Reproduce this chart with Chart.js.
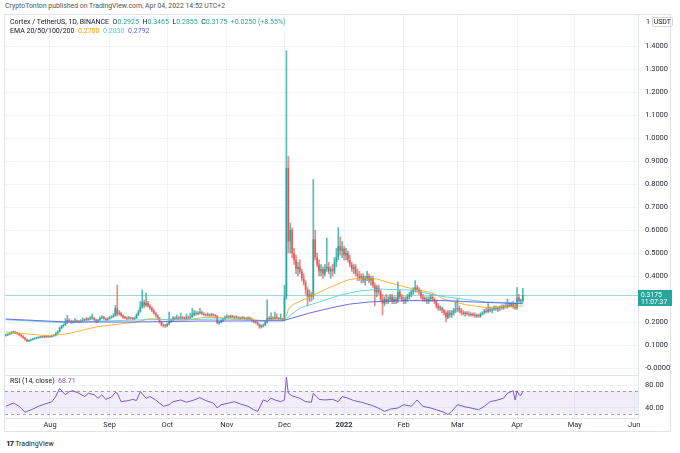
<!DOCTYPE html>
<html>
<head>
<meta charset="utf-8">
<script src="https://cdn.jsdelivr.net/npm/chart.js@4.4.1/dist/chart.umd.min.js"></script>
<style>
  html, body { margin: 0; padding: 0; background: #fff; }
  body { width: 680px; height: 453px; position: relative; overflow: hidden; font-family: Roboto, "Liberation Sans", sans-serif; color: #131722; }
  .abs { position: absolute; white-space: nowrap; }
  .frame { left: 4px; top: 14px; width: 667px; height: 418px; border: 1px solid #e0e3eb; box-sizing: border-box; }
  .sep { left: 4px; width: 634px; height: 1px; background: #e0e3eb; }
  .pub { left: 5px; top: 2px; font-size: 6.9px; color: #50535e; }
  .legend { left: 10px; font-size: 7px; color: #131722; }
  .up { color: #26a69a; }
  .unit { left: 646px; top: 18px; font-size: 7px; }
  .unit span { border: 1px solid #d1d4dc; border-radius: 2px; padding: 0 1px; }
  .logo { left: 6px; top: 439px; font-size: 7px; color: #131722; }
  .logo b { font-size: 8px; letter-spacing: -1px; margin-right: 2px; }
</style>
</head>
<body>
<div class="abs frame"></div>
<div class="abs pub">CryptoTonton published on TradingView.com, Apr 04, 2022 14:52 UTC+2</div>
<div class="abs" style="left:0;top:15px;width:680px;height:360px"><canvas id="priceChart" width="680" height="360"></canvas></div>
<div class="abs" style="left:0;top:375px;width:680px;height:58px"><canvas id="rsiChart" width="680" height="58"></canvas></div>
<div class="abs sep" style="top:375px"></div>
<div class="abs legend" style="top:18px">Cortex / TetherUS, 1D, BINANCE&nbsp;&nbsp;O<span class="up">0.2925</span>&nbsp; H<span class="up">0.3465</span>&nbsp; L<span class="up">0.2855</span>&nbsp; C<span class="up">0.3175</span>&nbsp; <span class="up">+0.0250 (+8.55%)</span></div>
<div class="abs legend" style="top:27px">EMA 20/50/100/200&nbsp; <span style="color:#ff9800">0.2700</span>&nbsp; <span style="color:#4dd0e1">0.2830</span>&nbsp; <span style="color:#5b5fe0">0.2792</span></div>
<div class="abs legend" style="top:377px">RSI (14, close)&nbsp; <span style="color:#7e57c2">68.71</span></div>
<div class="abs unit">1 <span>USDT</span></div>
<div class="abs logo"><b>17</b>TradingView</div>
<script>
// days are counted from 2021-08-01 (day 0), one candle per day
const firstDay = -23;
const opens = [
  0.140,0.143,0.146,0.150,0.155,0.157,0.152,0.149,0.143,0.138,
  0.132,0.124,0.117,0.120,0.123,0.126,0.129,0.131,0.133,0.135,
  0.134,0.136,0.135,0.137,0.136,0.139,0.141,0.150,0.158,0.174,
  0.182,0.187,0.196,0.209,0.204,0.198,0.200,0.206,0.203,0.200,
  0.205,0.210,0.208,0.213,0.211,0.216,0.217,0.210,0.200,0.208,
  0.217,0.222,0.215,0.209,0.214,0.218,0.222,0.228,0.260,0.235,
  0.239,0.228,0.220,0.217,0.214,0.218,0.216,0.212,0.217,0.230,
  0.245,0.265,0.287,0.272,0.283,0.270,0.260,0.250,0.239,0.228,
  0.217,0.200,0.187,0.184,0.183,0.190,0.200,0.208,0.217,0.214,
  0.218,0.215,0.220,0.216,0.214,0.219,0.217,0.222,0.230,0.239,
  0.235,0.238,0.243,0.236,0.232,0.229,0.231,0.228,0.232,0.229,
  0.226,0.196,0.199,0.205,0.212,0.220,0.224,0.221,0.225,0.222,
  0.219,0.221,0.217,0.215,0.219,0.216,0.213,0.218,0.214,0.205,
  0.200,0.198,0.190,0.178,0.182,0.187,0.198,0.217,0.212,0.218,
  0.214,0.220,0.216,0.212,0.215,0.209,0.310,0.870,0.550,0.600,
  0.500,0.470,0.430,0.440,0.420,0.390,0.370,0.340,0.310,0.320,
  0.310,0.560,0.480,0.450,0.420,0.430,0.410,0.430,0.440,0.420,
  0.430,0.420,0.460,0.480,0.530,0.510,0.520,0.490,0.500,0.470,
  0.450,0.430,0.440,0.410,0.400,0.390,0.400,0.380,0.390,0.400,
  0.380,0.390,0.360,0.330,0.350,0.330,0.300,0.280,0.300,0.290,
  0.300,0.310,0.290,0.300,0.290,0.330,0.310,0.300,0.290,0.300,
  0.310,0.320,0.330,0.340,0.350,0.340,0.330,0.310,0.300,0.300,
  0.290,0.300,0.310,0.300,0.290,0.270,0.260,0.262,0.250,0.240,
  0.220,0.240,0.230,0.240,0.250,0.255,0.260,0.250,0.240,0.235,
  0.240,0.235,0.230,0.235,0.230,0.225,0.230,0.225,0.235,0.240,
  0.250,0.245,0.255,0.250,0.255,0.260,0.255,0.260,0.265,0.260,
  0.270,0.265,0.275,0.270,0.280,0.265,0.260,0.305,0.290,0.2925
];
const highs = [
  0.147,0.149,0.153,0.158,0.161,0.159,0.155,0.151,0.146,0.141,
  0.134,0.127,0.123,0.126,0.129,0.132,0.134,0.136,0.138,0.137,
  0.139,0.138,0.140,0.139,0.143,0.145,0.154,0.162,0.178,0.186,
  0.192,0.215,0.230,0.214,0.208,0.206,0.215,0.210,0.207,0.210,
  0.218,0.214,0.220,0.218,0.225,0.235,0.220,0.213,0.212,0.222,
  0.228,0.225,0.218,0.219,0.224,0.228,0.236,0.272,0.360,0.250,
  0.243,0.232,0.226,0.222,0.224,0.222,0.220,0.222,0.236,0.252,
  0.290,0.340,0.295,0.326,0.290,0.276,0.266,0.255,0.243,0.232,
  0.220,0.204,0.192,0.190,0.196,0.243,0.214,0.224,0.222,0.230,
  0.224,0.239,0.225,0.222,0.235,0.226,0.239,0.260,0.250,0.248,
  0.245,0.260,0.247,0.241,0.236,0.240,0.235,0.238,0.236,0.232,
  0.228,0.204,0.210,0.216,0.226,0.232,0.228,0.230,0.229,0.226,
  0.227,0.224,0.221,0.224,0.222,0.219,0.222,0.221,0.217,0.209,
  0.206,0.201,0.193,0.188,0.192,0.205,0.296,0.224,0.240,0.224,
  0.243,0.236,0.220,0.235,0.218,0.360,1.380,0.920,0.630,0.610,
  0.520,0.490,0.460,0.470,0.430,0.410,0.380,0.350,0.340,0.330,
  0.820,0.600,0.500,0.470,0.450,0.440,0.450,0.565,0.460,0.440,
  0.450,0.480,0.520,0.610,0.570,0.550,0.530,0.520,0.510,0.490,
  0.460,0.450,0.450,0.430,0.420,0.410,0.410,0.400,0.420,0.410,
  0.400,0.400,0.370,0.360,0.360,0.340,0.320,0.310,0.320,0.310,
  0.320,0.320,0.310,0.310,0.374,0.340,0.320,0.310,0.310,0.320,
  0.330,0.340,0.350,0.380,0.360,0.350,0.340,0.320,0.310,0.310,
  0.310,0.320,0.320,0.305,0.295,0.280,0.270,0.265,0.255,0.245,
  0.250,0.250,0.250,0.260,0.290,0.300,0.270,0.260,0.250,0.245,
  0.245,0.245,0.240,0.240,0.240,0.235,0.235,0.240,0.245,0.255,
  0.260,0.280,0.265,0.260,0.270,0.270,0.265,0.270,0.275,0.275,
  0.280,0.300,0.285,0.285,0.290,0.280,0.350,0.320,0.300,0.3465
];
const lows = [
  0.138,0.141,0.144,0.148,0.151,0.149,0.146,0.140,0.135,0.129,
  0.121,0.113,0.115,0.118,0.121,0.124,0.127,0.129,0.131,0.131,
  0.132,0.132,0.133,0.133,0.134,0.137,0.139,0.148,0.156,0.170,
  0.178,0.185,0.193,0.200,0.194,0.195,0.198,0.199,0.196,0.198,
  0.203,0.204,0.206,0.207,0.209,0.212,0.206,0.196,0.198,0.206,
  0.214,0.211,0.205,0.207,0.212,0.216,0.220,0.225,0.226,0.230,
  0.224,0.216,0.213,0.210,0.212,0.212,0.208,0.210,0.215,0.228,
  0.242,0.260,0.262,0.268,0.265,0.255,0.244,0.234,0.222,0.210,
  0.195,0.182,0.178,0.176,0.180,0.187,0.197,0.205,0.209,0.212,
  0.210,0.213,0.212,0.210,0.212,0.213,0.215,0.220,0.227,0.230,
  0.231,0.235,0.232,0.228,0.225,0.226,0.224,0.225,0.225,0.222,
  0.192,0.190,0.196,0.202,0.209,0.217,0.216,0.218,0.218,0.215,
  0.216,0.213,0.211,0.213,0.212,0.209,0.211,0.210,0.202,0.196,
  0.193,0.185,0.172,0.174,0.178,0.184,0.195,0.207,0.210,0.209,
  0.212,0.212,0.208,0.210,0.205,0.205,0.300,0.500,0.500,0.480,
  0.450,0.410,0.400,0.410,0.380,0.360,0.320,0.270,0.290,0.290,
  0.300,0.470,0.440,0.400,0.400,0.390,0.400,0.420,0.410,0.390,
  0.400,0.410,0.440,0.470,0.490,0.480,0.470,0.470,0.460,0.440,
  0.420,0.410,0.400,0.380,0.380,0.370,0.370,0.360,0.380,0.370,
  0.360,0.350,0.270,0.310,0.320,0.290,0.230,0.270,0.280,0.280,
  0.290,0.280,0.280,0.280,0.285,0.300,0.290,0.280,0.280,0.290,
  0.300,0.310,0.320,0.330,0.330,0.320,0.300,0.290,0.290,0.280,
  0.280,0.290,0.290,0.280,0.260,0.250,0.250,0.240,0.230,0.200,
  0.215,0.220,0.220,0.230,0.240,0.245,0.240,0.230,0.230,0.225,
  0.230,0.225,0.225,0.225,0.220,0.220,0.220,0.220,0.230,0.235,
  0.240,0.240,0.245,0.240,0.250,0.250,0.245,0.250,0.255,0.255,
  0.260,0.260,0.265,0.265,0.260,0.255,0.255,0.285,0.280,0.2855
];
const closes = [
  0.143,0.146,0.150,0.155,0.157,0.152,0.149,0.143,0.138,0.132,
  0.124,0.117,0.120,0.123,0.126,0.129,0.131,0.133,0.135,0.134,
  0.136,0.135,0.137,0.136,0.139,0.141,0.150,0.158,0.174,0.182,
  0.187,0.196,0.209,0.204,0.198,0.200,0.206,0.203,0.200,0.205,
  0.210,0.208,0.213,0.211,0.216,0.217,0.210,0.200,0.208,0.217,
  0.222,0.215,0.209,0.214,0.218,0.222,0.228,0.260,0.235,0.239,
  0.228,0.220,0.217,0.214,0.218,0.216,0.212,0.217,0.230,0.245,
  0.265,0.287,0.272,0.283,0.270,0.260,0.250,0.239,0.228,0.217,
  0.200,0.187,0.184,0.183,0.190,0.200,0.208,0.217,0.214,0.218,
  0.215,0.220,0.216,0.214,0.219,0.217,0.222,0.230,0.239,0.235,
  0.238,0.243,0.236,0.232,0.229,0.231,0.228,0.232,0.229,0.226,
  0.196,0.199,0.205,0.212,0.220,0.224,0.221,0.225,0.222,0.219,
  0.221,0.217,0.215,0.219,0.216,0.213,0.218,0.214,0.205,0.200,
  0.198,0.190,0.178,0.182,0.187,0.198,0.217,0.212,0.218,0.214,
  0.220,0.216,0.212,0.215,0.209,0.310,0.870,0.550,0.600,0.500,
  0.470,0.430,0.440,0.420,0.390,0.370,0.340,0.310,0.320,0.310,
  0.560,0.480,0.450,0.420,0.430,0.410,0.430,0.440,0.420,0.430,
  0.420,0.460,0.480,0.530,0.510,0.520,0.490,0.500,0.470,0.450,
  0.430,0.440,0.410,0.400,0.390,0.400,0.380,0.390,0.400,0.380,
  0.390,0.360,0.330,0.350,0.330,0.300,0.280,0.300,0.290,0.300,
  0.310,0.290,0.300,0.290,0.330,0.310,0.300,0.290,0.300,0.310,
  0.320,0.330,0.340,0.350,0.340,0.330,0.310,0.300,0.302,0.290,
  0.300,0.310,0.300,0.290,0.270,0.260,0.262,0.250,0.240,0.220,
  0.240,0.230,0.240,0.250,0.255,0.260,0.250,0.240,0.235,0.240,
  0.235,0.230,0.235,0.230,0.225,0.230,0.225,0.235,0.240,0.250,
  0.245,0.255,0.250,0.255,0.260,0.255,0.260,0.265,0.260,0.270,
  0.265,0.275,0.270,0.280,0.265,0.260,0.305,0.290,0.2925,0.3175
];

// EMA lines
const ema20Days = [-23, 0, 10, 17, 25, 35, 45, 52, 60, 70, 80, 90, 100, 110, 121, 123, 124, 126, 135, 146, 155, 161, 170, 177, 187, 199, 206, 217, 227, 241, 246];
const ema20 = [0.157, 0.139, 0.150, 0.165, 0.180, 0.190, 0.200, 0.215, 0.210, 0.208, 0.220, 0.218, 0.217, 0.205, 0.210, 0.225, 0.255, 0.274, 0.309, 0.352, 0.383, 0.391, 0.387, 0.370, 0.348, 0.326, 0.296, 0.274, 0.263, 0.268, 0.270];
const ema50Days = [-23, 0, 10, 30, 50, 70, 90, 110, 122, 130, 140, 151, 161, 172, 187, 206, 227, 246];
const ema50 = [0.210, 0.200, 0.198, 0.205, 0.210, 0.210, 0.213, 0.207, 0.209, 0.261, 0.287, 0.317, 0.335, 0.343, 0.339, 0.309, 0.287, 0.283];
const ema100Days = [-23, 9, 43, 78, 121, 135, 146, 156, 166, 177, 187, 206, 221, 234, 246];
const ema100 = [0.213, 0.200, 0.200, 0.204, 0.205, 0.239, 0.261, 0.278, 0.287, 0.291, 0.293, 0.293, 0.287, 0.283, 0.2792];

// RSI (14, close)
const rsiDays = [-23,-19,-16,-13,-9,-6,-1,1,3,5,8,10,12,15,18,20,23,25,27,29,32,34,35,37,41,43,45,47,50,52,55,59,62,64,68,71,75,78,81,85,87,89,93,96,99,103,106,108,111,113,115,117,120,122,123,124,126,130,133,136,137,140,143,147,150,152,155,158,162,165,168,172,174,177,181,184,188,191,194,198,201,205,207,209,212,216,219,223,226,229,233,236,238,241,242,243,244,245,246];
const rsiValues = [42.9,48.6,42.9,32.6,38,43,48.6,51,60,74,63,68.6,70,65.7,60,65.7,63,57,63,55,59,67,65.7,51,53,55,53,68.6,57,60,54,43,45.7,51,54,50,54,58,53,48.6,40,45.7,48.6,51,47,43,37,34,54,51,57,54,51,54,94,65.7,61,57,51,50,65.7,55,54,55,51,60,57,53,50,47,44,38,34,38,40,45.7,43,54,43,40,37,32.6,28.6,34,45.7,42,40,37,43,51,54,57,65.7,70,54,70,63,62,68.71];
const rsiBands = [70, 30];

// axes
const monthDays = [0, 31, 61, 92, 122, 153, 184, 212, 243, 273, 304];
const monthLabels = ['Aug', 'Sep', 'Oct', 'Nov', 'Dec', '2022', 'Feb', 'Mar', 'Apr', 'May', 'Jun'];
const priceTicks = [0, 0.1, 0.2, 0.3, 0.4, 0.5, 0.6, 0.7, 0.8, 0.9, 1.0, 1.1, 1.2, 1.3, 1.4];
const priceTickLabels = ['-0.0000', '0.1000', '0.2000', '0.3000', '0.4000', '0.5000', '0.6000', '0.7000', '0.8000', '0.9000', '1.0000', '1.1000', '1.2000', '1.3000', '1.4000'];
const rsiTicks = [40, 80];
const rsiTickLabels = ['40.00', '80.00'];
const countdown = '11:07:37';

const UP = '#26a69a';
const DOWN = '#ef5350';
const GRID = '#f0f3fa';
const FONT = 'Roboto, "Liberation Sans", sans-serif';
const X_MIN = -23.41;
const X_MAX = 305.93;

Chart.defaults.font.family = FONT;
Chart.defaults.font.size = 7.5;
Chart.defaults.color = '#2a2e39';

const days = closes.map((_, i) => firstDay + i);
const candleColors = closes.map((c, i) => c >= opens[i] ? UP : DOWN);
const wickColors = closes.map((c, i) => c >= opens[i] ? 'rgba(38,166,154,0.75)' : 'rgba(239,83,80,0.7)');
const toPoints = (xs, ys) => xs.map((x, i) => ({ x, y: ys[i] }));

const lineSet = (label, xs, ys, color) => ({
  type: 'line', label, data: toPoints(xs, ys), borderColor: color, borderWidth: 1,
  pointRadius: 0, tension: 0, order: 0
});

// price scales sit on the right, fixed width, no extra label padding
const sideAxis = (min, max, ticks, labels) => ({
  position: 'right', min, max,
  afterBuildTicks: s => { s.ticks = ticks.map(v => ({ value: v })); },
  afterFit: s => { s.width = 34; s.paddingTop = 0; s.paddingBottom = 0; },
  ticks: { callback: (v, i) => labels[i], padding: 7, color: '#2a2e39' },
  grid: { color: GRID, drawTicks: false },
  border: { display: true, color: '#e0e3eb' }
});

// last price line + label on the price scale
const lastPrice = {
  id: 'lastPrice',
  beforeDatasetsDraw(chart) {
    const { ctx, chartArea, scales } = chart;
    const y = Math.round(scales.y.getPixelForValue(closes[closes.length - 1])) + 0.5;
    ctx.save();
    ctx.strokeStyle = 'rgba(38,166,154,0.45)';
    ctx.lineWidth = 1;
    ctx.beginPath();
    ctx.moveTo(chartArea.left, y);
    ctx.lineTo(chartArea.right, y);
    ctx.stroke();
    ctx.restore();
  },
  afterDraw(chart) {
    const { ctx, chartArea, scales } = chart;
    const last = closes[closes.length - 1];
    const y = scales.y.getPixelForValue(last);
    ctx.save();
    ctx.fillStyle = UP;
    ctx.fillRect(chartArea.right, y - 5, 34, 16);
    ctx.fillStyle = '#fff';
    ctx.font = '6.8px ' + FONT;
    ctx.textBaseline = 'middle';
    ctx.fillText(last.toFixed(4), chartArea.right + 3, y);
    ctx.fillText(countdown, chartArea.right + 3, y + 7);
    ctx.restore();
  }
};

// RSI 30/70 band
const rsiBand = {
  id: 'rsiBand',
  beforeDatasetsDraw(chart) {
    const { ctx, chartArea, scales } = chart;
    const top = scales.y.getPixelForValue(rsiBands[0]);
    const bottom = scales.y.getPixelForValue(rsiBands[1]);
    ctx.save();
    ctx.fillStyle = 'rgba(126,87,194,0.1)';
    ctx.fillRect(chartArea.left, top, chartArea.right - chartArea.left, bottom - top);
    ctx.strokeStyle = 'rgba(120,123,134,0.7)';
    ctx.setLineDash([3, 3]);
    ctx.lineWidth = 1;
    [top, bottom].forEach(py => {
      ctx.beginPath();
      ctx.moveTo(chartArea.left, Math.round(py) + 0.5);
      ctx.lineTo(chartArea.right, Math.round(py) + 0.5);
      ctx.stroke();
    });
    ctx.restore();
  }
};

const commonOptions = {
  responsive: false,
  animation: false,
  events: [],
  plugins: { legend: { display: false }, tooltip: { enabled: false } }
};

new Chart(document.getElementById('priceChart'), {
  type: 'bar',
  data: {
    datasets: [
      {
        label: 'wick', data: days.map((d, i) => ({ x: d, y: [lows[i], highs[i]] })),
        backgroundColor: wickColors, barThickness: 1, grouped: false, order: 2
      },
      {
        label: 'body', data: days.map((d, i) => ({ x: d, y: [opens[i], closes[i]] })),
        backgroundColor: candleColors, barPercentage: 0.78, categoryPercentage: 1,
        grouped: false, minBarLength: 1, order: 1
      },
      lineSet('EMA 100', ema100Days, ema100, 'rgba(91,95,224,0.9)'),
      lineSet('EMA 50', ema50Days, ema50, 'rgba(77,208,225,0.85)'),
      lineSet('EMA 20', ema20Days, ema20, 'rgba(255,152,0,0.75)')
    ]
  },
  options: {
    ...commonOptions,
    layout: { padding: { left: 5, right: 8, top: 0, bottom: 0 } },
    scales: {
      x: {
        type: 'linear', min: X_MIN, max: X_MAX, offset: false,
        afterBuildTicks: s => { s.ticks = monthDays.map(v => ({ value: v })); },
        afterFit: s => { s.height = 0; s.paddingLeft = 0; s.paddingRight = 0; },
        ticks: { display: false },
        grid: { color: GRID, drawTicks: false, offset: false },
        border: { display: false }
      },
      y: sideAxis(-0.0304, 1.5348, priceTicks, priceTickLabels)
    }
  },
  plugins: [lastPrice]
});

new Chart(document.getElementById('rsiChart'), {
  type: 'line',
  data: {
    datasets: [{
      label: 'RSI', data: toPoints(rsiDays, rsiValues), borderColor: '#7e57c2',
      borderWidth: 1, pointRadius: 0, tension: 0
    }]
  },
  options: {
    ...commonOptions,
    layout: { padding: { left: 5, right: 8, top: 0, bottom: 0 } },
    scales: {
      x: {
        type: 'linear', min: X_MIN, max: X_MAX,
        afterBuildTicks: s => { s.ticks = monthDays.map(v => ({ value: v })); },
        afterFit: s => { s.height = 15; s.paddingLeft = 0; s.paddingRight = 0; },
        ticks: {
          callback: (v, i) => monthLabels[i], padding: 3, maxRotation: 0, autoSkip: false,
          font: c => ({ size: 7.5, weight: c.tick && c.tick.label === '2022' ? 'bold' : 'normal' })
        },
        grid: { color: GRID, drawTicks: false },
        border: { display: true, color: '#e0e3eb' }
      },
      y: sideAxis(22.6, 97.4, rsiTicks, rsiTickLabels)
    }
  },
  plugins: [rsiBand]
});
</script>
</body>
</html>
